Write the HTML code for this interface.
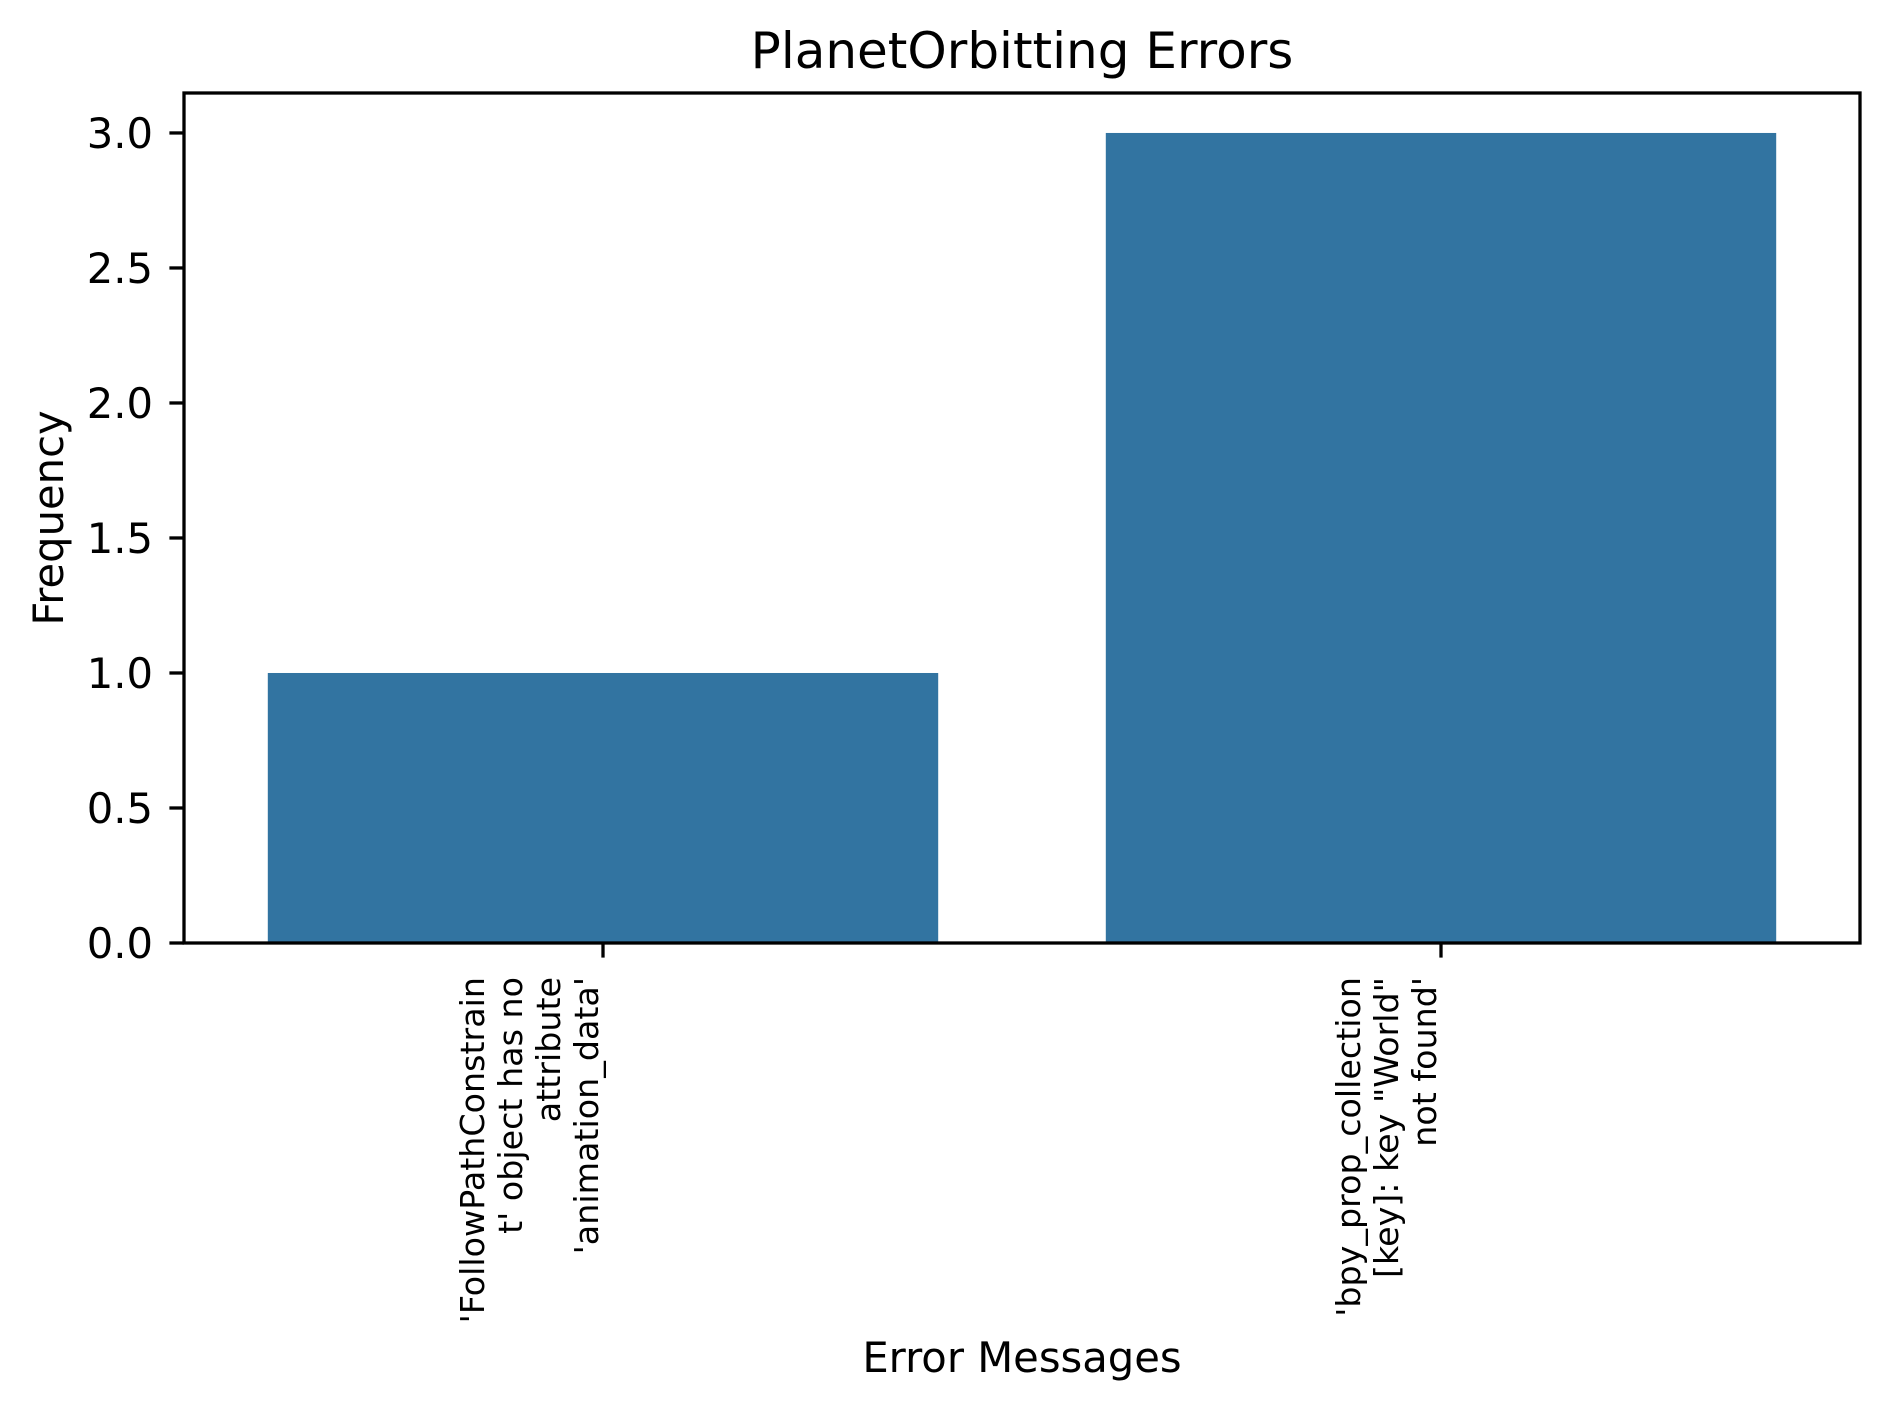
<!DOCTYPE html>
<html><head><meta charset="utf-8"><style>
html,body{margin:0;padding:0;background:#fff;}
svg{display:block;font-family:"DejaVu Sans","Liberation Sans",sans-serif;}
</style></head><body>
<svg id="chart" width="1889" height="1408" viewBox="0 0 1889 1408" xmlns="http://www.w3.org/2000/svg">
<rect width="1889" height="1408" fill="#fff"/>
<text x="1022" y="68" font-size="50" text-anchor="middle" fill="#000">PlanetOrbitting Errors</text>
<g id="plot"></g>
<text transform="translate(63,518) rotate(-90)" font-size="41.7" text-anchor="middle" fill="#000">Frequency</text>
<text x="1022" y="1372" font-size="41.7" text-anchor="middle" fill="#000">Error Messages</text>
</svg>
<script>
const categoryLines = [
  ["'FollowPathConstrain","t' object has no","attribute","'animation_data'"],
  ["'bpy_prop_collection","[key]: key \"World\"","not found'"]
];
const values = [1, 3];
const yTicks = [0, 0.5, 1.0, 1.5, 2.0, 2.5, 3.0];
const yTickLabels = ["0.0","0.5","1.0","1.5","2.0","2.5","3.0"];

const NS = "http://www.w3.org/2000/svg";
const L = 184, R = 1860, T = 93, B = 943;
const yMax = 3.148;
function yScale(v){ return B - (v / yMax) * (B - T); }
function xScale(i){ return L + (i + 0.5) / values.length * (R - L); }
const bandW = (R - L) / values.length;
const plot = document.getElementById('plot');
function mk(tag, attrs){ const e = document.createElementNS(NS, tag); for (const k in attrs) e.setAttribute(k, attrs[k]); return e; }

values.forEach((v, i) => {
  const w = bandW * 0.8;
  const r = mk('rect', {x: xScale(i) - w/2, y: yScale(v), width: w, height: yScale(0) - yScale(v), fill: '#3274a1'});
  
  
  plot.appendChild(r);
});

yTicks.forEach((t, i) => {
  const y = yScale(t);
  const ln = mk('line', {x1: L - 14.6, x2: L, y1: y, y2: y, stroke: '#000', 'stroke-width': 3.3});
  
  
  plot.appendChild(ln);
  const tx = mk('text', {x: 153, y: y + 15, 'font-size': 41.7, 'text-anchor': 'end', fill: '#000'});
  
  
  tx.textContent = yTickLabels[i];
  plot.appendChild(tx);
});

categoryLines.forEach((lines, i) => {
  const x = xScale(i);
  const ln = mk('line', {x1: x, x2: x, y1: B, y2: B + 14.6, stroke: '#000', 'stroke-width': 3.3});
  
  
  plot.appendChild(ln);
  const g = mk('g', {});
  
  
  const n = lines.length;
  lines.forEach((s, k) => {
    const bx = x - 5 - (n - 1 - k) * 38;
    const tx = mk('text', {transform: 'translate(' + bx + ',977) rotate(-90)', 'font-size': 33.3, 'text-anchor': 'end', fill: '#000'});
    
    
    tx.textContent = s;
    g.appendChild(tx);
  });
  plot.appendChild(g);
});

const frame = mk('rect', {x: L, y: T, width: R - L, height: B - T, fill: 'none', stroke: '#000', 'stroke-width': 3.3});


plot.appendChild(frame);
</script>
</body></html>
